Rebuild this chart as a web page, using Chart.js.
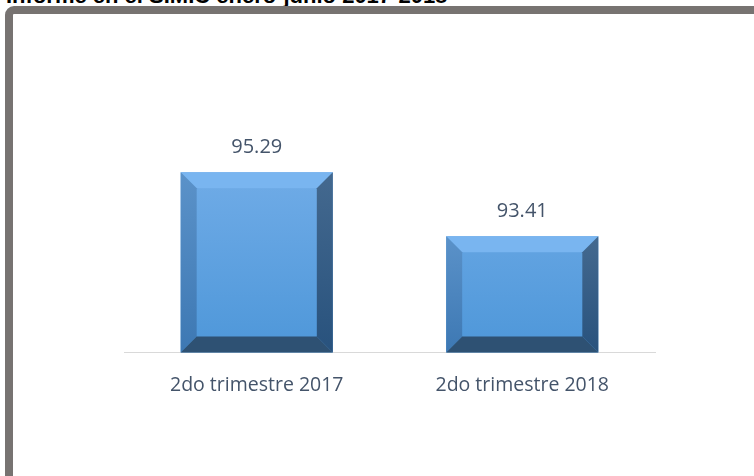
<!DOCTYPE html>
<html>
<head>
<meta charset="utf-8">
<script src="https://cdn.jsdelivr.net/npm/chart.js@4.4.1/dist/chart.umd.min.js"></script>
<style>
  html, body { margin:0; padding:0; background:#fff; overflow:hidden; }
  body { width:754px; height:476px; position:relative; }
  #title { position:absolute; left:6px; top:-17px; font:bold 22px "Liberation Sans", Arial, sans-serif; color:#000; white-space:nowrap; }
  #frame { position:absolute; left:5px; top:6px; width:800px; height:520px; border:8px solid #777371; border-radius:9px; box-sizing:border-box; }
  canvas { position:absolute; left:0; top:0; }
</style>
</head>
<body>
<div id="title">Informe en el SIMIC enero-junio 2017-2018</div>
<div id="frame"></div>
<canvas id="chart" width="754" height="476"></canvas>
<script>
const categories = ['2do trimestre 2017', '2do trimestre 2018'];
const values = [95.29, 93.41];
const yMin = 90;
const yMax = 97;

const textColor = '#44546a';

// bevel on each bar + value label above
const bevelPlugin = {
  id: 'bevel',
  afterDatasetsDraw(chart){
    const ctx = chart.ctx;
    const meta = chart.getDatasetMeta(0);
    meta.data.forEach((bar, i) => {
      const l = bar.x - bar.width/2, r = bar.x + bar.width/2;
      const t = bar.y, b = Math.min(bar.base, chart.chartArea.bottom);
      const s = 16;
      const poly = (pts, fill) => {
        ctx.beginPath();
        ctx.moveTo(pts[0][0], pts[0][1]);
        for (let k = 1; k < pts.length; k++) ctx.lineTo(pts[k][0], pts[k][1]);
        ctx.closePath();
        ctx.fillStyle = fill;
        ctx.fill();
      };
      ctx.save();
      // top
      poly([[l,t],[r,t],[r-s,t+s],[l+s,t+s]], '#79b5f0');
      // left
      let g = ctx.createLinearGradient(0, t, 0, b);
      g.addColorStop(0, '#5b92c9'); g.addColorStop(1, '#3d78b3');
      poly([[l,t],[l+s,t+s],[l+s,b-s],[l,b]], g);
      // right
      g = ctx.createLinearGradient(0, t, 0, b);
      g.addColorStop(0, '#44698f'); g.addColorStop(1, '#28527d');
      poly([[r,t],[r,b],[r-s,b-s],[r-s,t+s]], g);
      // bottom
      poly([[l,b],[l+s,b-s],[r-s,b-s],[r,b]], '#2e5173');
      ctx.fillStyle = textColor;
      ctx.font = '20px "Open Sans", "Noto Sans", sans-serif';
      ctx.textAlign = 'center';
      ctx.textBaseline = 'middle';
      ctx.fillText(values[i].toFixed(2), bar.x, t - 25);
      ctx.restore();
    });
  }
};

const ctx = document.getElementById('chart').getContext('2d');
const fillGrad = ctx.createLinearGradient(0, 160, 0, 350);
fillGrad.addColorStop(0, '#72ade8');
fillGrad.addColorStop(1, '#4e97d9');

new Chart(ctx, {
  type: 'bar',
  data: {
    labels: categories,
    datasets: [{ data: values, backgroundColor: fillGrad, borderWidth: 0, barPercentage: 0.573, categoryPercentage: 1 }]
  },
  options: {
    responsive: false,
    animation: false,
    events: [],
    layout: { padding: { left: 124, right: 99, top: 114, bottom: 58 } },
    plugins: { legend: { display: false }, tooltip: { enabled: false } },
    scales: {
      x: {
        grid: { display: false, drawTicks: false },
        border: { display: true, color: '#d9d9d9', width: 1 },
        ticks: { color: textColor, padding: 21, font: { family: '"Open Sans", "Noto Sans", sans-serif', size: 19.5 } }
      },
      y: { display: false, min: yMin, max: yMax }
    }
  },
  plugins: [bevelPlugin]
});
</script>
</body>
</html>
